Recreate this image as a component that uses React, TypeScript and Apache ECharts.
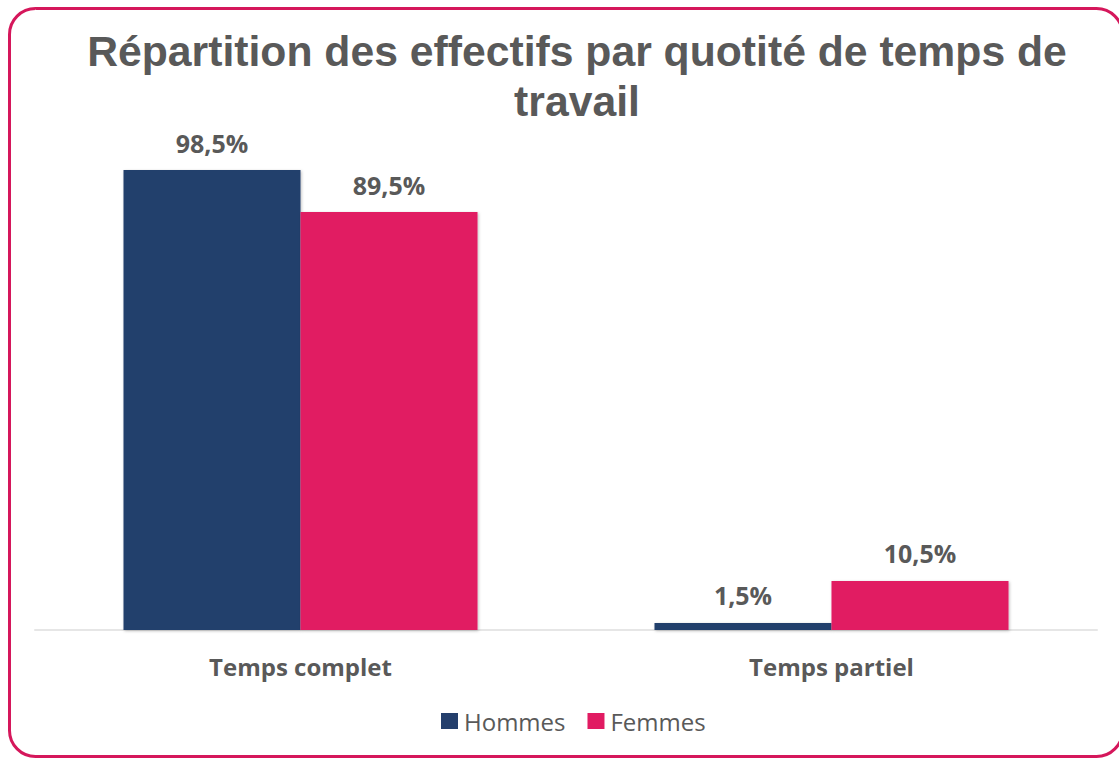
import React, { useEffect, useRef } from "react";
import * as echarts from "echarts";

const categories = ["Temps complet", "Temps partiel"];
const hommes = [98.5, 1.5];
const femmes = [89.5, 10.5];
const seriesNames = ["Hommes", "Femmes"];
const titleText = "Répartition des effectifs par quotité de temps de\ntravail";

const NAVY = "#243F6C";
const PINK = "#E11B62";
const GREY = "#595959";

const fmt = (p: any) => String(Number(p.value).toFixed(1)).replace(".", ",") + "%";

export default function App() {
  const ref = useRef<HTMLDivElement>(null);
  useEffect(() => {
    if (!ref.current) return;
    const chart = echarts.init(ref.current, undefined, { renderer: "svg" });
    const labelStyle = {
      show: true,
      position: "top",
      distance: 15,
      formatter: fmt,
      color: GREY,
      fontFamily: "Open Sans",
      fontWeight: "bold",
      fontSize: 25,
    };
    chart.setOption({
      animation: false,
      backgroundColor: "#ffffff",
      title: {
        text: titleText,
        left: 572,
        top: 21,
        textAlign: "center",
        textStyle: {
          color: GREY,
          fontFamily: "Liberation Sans",
          fontWeight: "bold",
          fontSize: 42.7,
          lineHeight: 50,
        },
      },
      legend: {
        data: seriesNames,
        left: 436,
        top: 704,
        itemWidth: 17,
        itemHeight: 16,
        itemGap: 22,
        icon: "rect",
        textStyle: {
          color: GREY,
          fontFamily: "Open Sans",
          fontSize: 24,
          padding: [0, 0, 0, 1],
        },
      },
      grid: { left: 35, right: 22, top: 163, bottom: 129 },
      xAxis: {
        type: "category",
        data: categories,
        axisTick: { show: false },
        axisLine: { lineStyle: { color: "#E6E6E6", width: 2 } },
        axisLabel: {
          margin: 24,
          color: GREY,
          fontFamily: "Open Sans",
          fontWeight: "bold",
          fontSize: 24,
        },
      },
      yAxis: {
        type: "value",
        min: 0,
        max: 100,
        show: false,
        splitLine: { show: false },
      },
      series: [
        {
          name: seriesNames[0],
          type: "bar",
          data: hommes,
          barWidth: 177,
          barGap: "0%",
          itemStyle: {
            color: NAVY,
            shadowColor: "rgba(0,0,0,0.25)",
            shadowBlur: 3,
            shadowOffsetX: 1,
            shadowOffsetY: 1,
          },
          label: labelStyle,
        },
        {
          name: seriesNames[1],
          type: "bar",
          data: femmes,
          barWidth: 177,
          barGap: "0%",
          itemStyle: {
            color: PINK,
            shadowColor: "rgba(0,0,0,0.25)",
            shadowBlur: 3,
            shadowOffsetX: 1,
            shadowOffsetY: 1,
          },
          label: labelStyle,
        },
      ],
      graphic: [
        {
          type: "rect",
          silent: true,
          z: 100,
          shape: { x: 9.5, y: 8.5, width: 1113, height: 748, r: 26 },
          style: { fill: "none", stroke: "#D5175B", lineWidth: 3 },
        },
      ],
    });
    return () => chart.dispose();
  }, []);
  return (
    <div
      ref={ref}
      style={{ position: "fixed", left: 0, top: 0, width: 1119, height: 759, background: "#fff" }}
    />
  );
}
